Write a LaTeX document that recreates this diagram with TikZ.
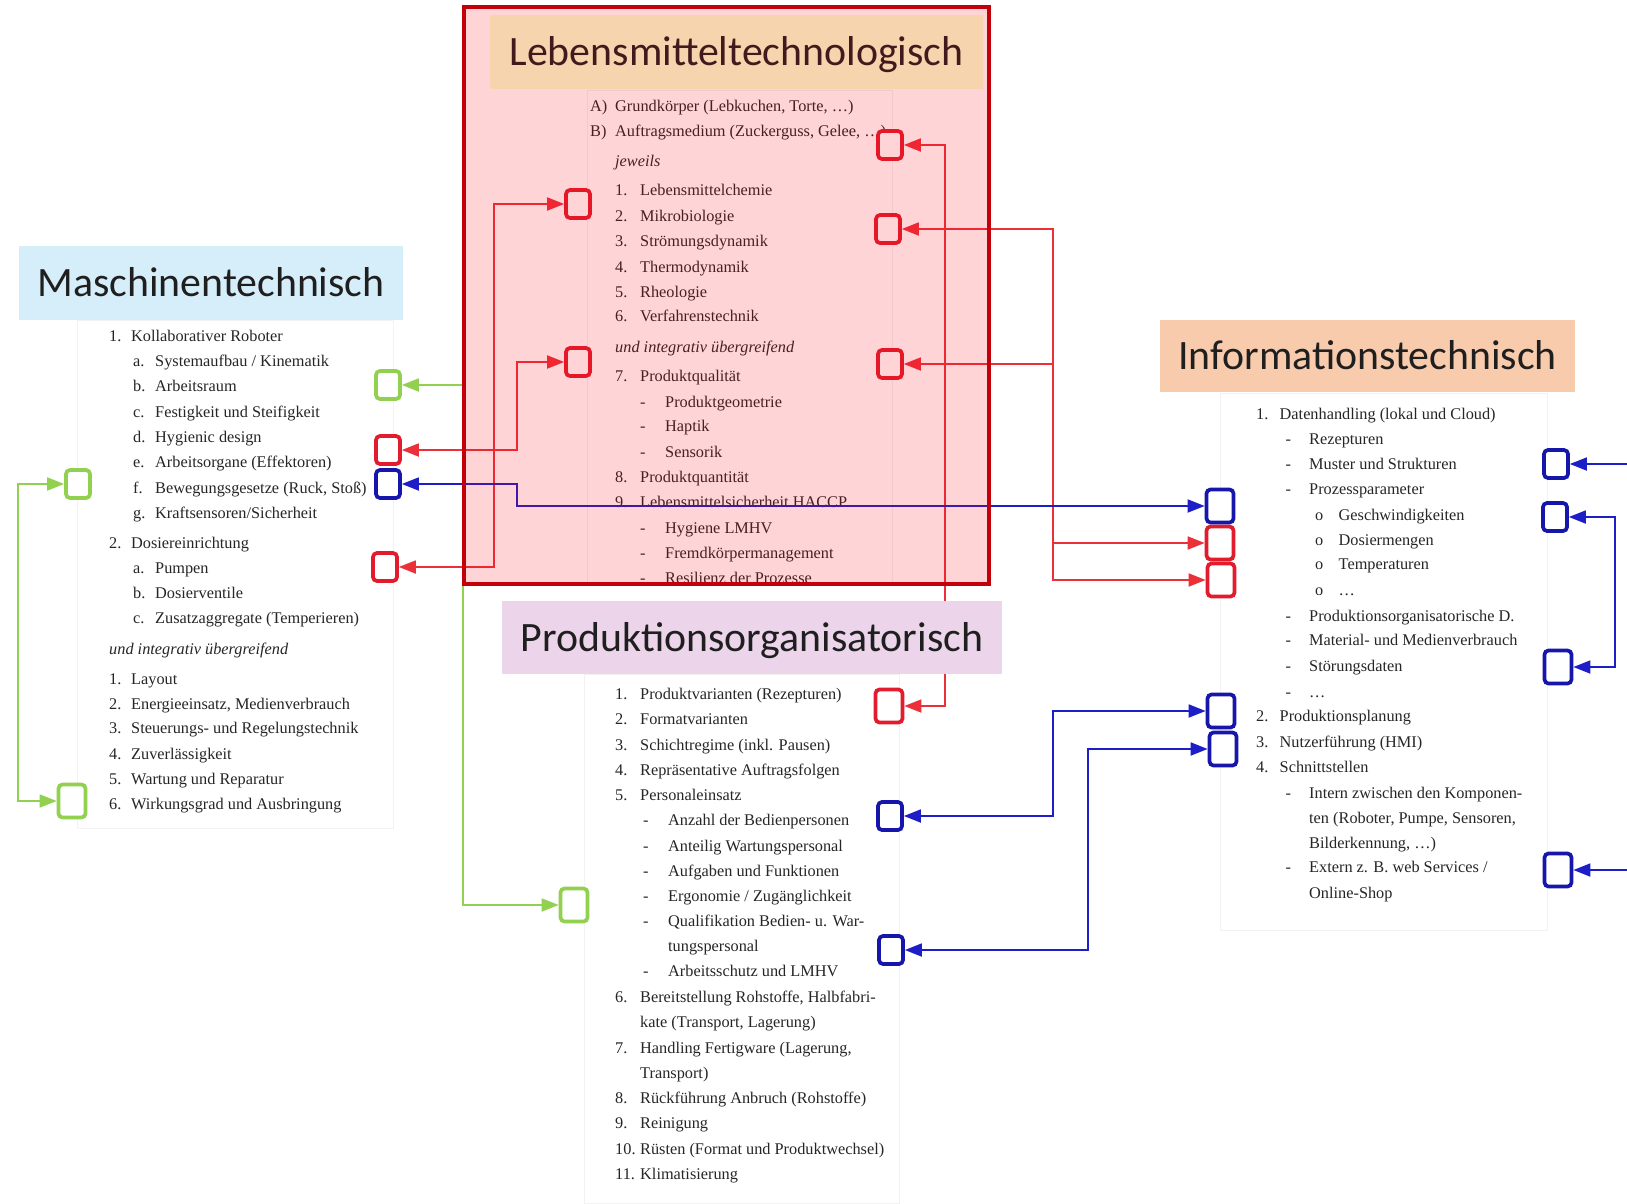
\documentclass[tikz,border=0pt]{standalone}
\usepackage{fontspec}
\setmainfont{Liberation Serif}
\newfontfamily\headfont{Carlito}
\usetikzlibrary{arrows.meta}

\definecolor{mtblue}{RGB}{214,238,249}
\definecolor{lmtan}{RGB}{245,255,205}
\definecolor{poviolet}{RGB}{236,212,234}
\definecolor{itorange}{RGB}{248,203,173}
\definecolor{sqred}{RGB}{226,28,44}
\definecolor{sqblue}{RGB}{22,22,170}
\definecolor{sqgreen}{RGB}{146,208,80}
\definecolor{lnred}{RGB}{236,48,58}
\definecolor{lnblue}{RGB}{30,30,200}
\definecolor{lmframe}{RGB}{195,0,10}
\definecolor{ovl}{RGB}{255,0,20}

\tikzset{
  head/.style={fill=#1, font=\headfont\fontsize{41.8}{44}\selectfont, text=black!88,
    inner sep=0, text height=27pt, text depth=0pt},
  lab/.style={anchor=base west, inner sep=0, font=\fontsize{16.3}{18}\selectfont, text=black!85},
  sq/.style={draw=#1, fill=white, line width=3.7, rounded corners=4,
    minimum width=24, minimum height=28, inner sep=0},
  big/.style={minimum width=27, minimum height=33},
  link/.style={draw=#1, line width=1.8},
  panel/.style={draw=black!5, line width=1}
}

% #1 x of the labels, #2 indent per level, #3 label to text, #4 y/level/label/text
\newcommand{\drawlist}[4]{%
  \foreach \yy/\lv/\lb/\tx in {#4} {
    \node[lab] (l#1-\yy) at ({#1+\lv*#2}, {\yy+5}) {\lb};
    \node[lab] (t#1-\yy) at ({#1+\lv*#2+#3}, {\yy+5}) {\tx};
  }}

\begin{document}
\begin{tikzpicture}[x=1pt, y=-1pt, >={Triangle[length=17pt,width=13pt]}]
  \useasboundingbox (0,0) rectangle (1627,1203);
  \fill[white] (0,0) rectangle (1627,1203);

  % text panels
  \draw[panel] (77,320) rectangle (393,828);
  \draw[panel] (587,90) rectangle (892,584);
  \draw[panel] (584,674) rectangle (899,1203);
  \draw[panel] (1220,393) rectangle (1547,930);

  % Maschinentechnisch
  \drawlist{109}{24}{22}{336/0/1./Kollaborativer Roboter,
    361/1/a./{Systemaufbau / Kinematik}, 386/1/b./Arbeitsraum,
    412/1/c./Festigkeit und Steifigkeit, 437/1/d./Hygienic design,
    462/1/e./Arbeitsorgane (Effektoren), 488/1/f./{Bewegungsgesetze (Ruck, Stoß)},
    513/1/g./{Kraftsensoren/Sicherheit}, 543/0/2./Dosiereinrichtung,
    568/1/a./Pumpen, 593/1/b./Dosierventile, 618/1/c./Zusatzaggregate (Temperieren),
    649/0/{\textit{und integrativ übergreifend}}/{},
    679/0/1./Layout, 704/0/2./{Energieeinsatz, Medienverbrauch},
    728/0/3./Steuerungs- und Regelungstechnik, 754/0/4./Zuverlässigkeit,
    779/0/5./Wartung und Reparatur, 804/0/6./Wirkungsgrad und Ausbringung}

  % Lebensmitteltechnologisch
  \begin{scope}
    \clip (464,90) rectangle (989,584);
    \drawlist{615}{25}{25}{106/-1/A)/{Grundkörper (Lebkuchen, Torte, …)},
      131/-1/B)/{Auftragsmedium (Zuckerguss, Gelee, …)},
      161/0/{\textit{jeweils}}/{},
      190/0/1./Lebensmittelchemie, 216/0/2./Mikrobiologie, 241/0/3./Strömungsdynamik,
      267/0/4./Thermodynamik, 292/0/5./Rheologie, 316/0/6./Verfahrenstechnik,
      347/0/{\textit{und integrativ übergreifend}}/{},
      376/0/7./Produktqualität, 402/1/-/Produktgeometrie, 426/1/-/Haptik,
      452/1/-/Sensorik, 477/0/8./Produktquantität,
      502/0/9./Lebensmittelsicherheit HACCP, 528/1/-/Hygiene LMHV,
      553/1/-/Fremdkörpermanagement, 578/1/-/Resilienz der Prozesse}
  \end{scope}

  % Produktionsorganisatorisch
  \drawlist{615}{28}{25}{694/0/1./Produktvarianten (Rezepturen),
    719/0/2./Formatvarianten, 745/0/3./Schichtregime (inkl. Pausen),
    770/0/4./Repräsentative Auftragsfolgen, 795/0/5./Personaleinsatz,
    820/1/-/Anzahl der Bedienpersonen, 846/1/-/Anteilig Wartungspersonal,
    871/1/-/Aufgaben und Funktionen, 896/1/-/{Ergonomie / Zugänglichkeit},
    921/1/-/Qualifikation Bedien- u. War-, 946/1/{}/tungspersonal,
    971/1/-/Arbeitsschutz und LMHV,
    997/0/6./{Bereitstellung Rohstoffe, Halbfabri-},
    1022/0/{}/{kate (Transport, Lagerung)},
    1048/0/7./{Handling Fertigware (Lagerung,}, 1073/0/{}/Transport),
    1098/0/8./Rückführung Anbruch (Rohstoffe), 1123/0/9./Reinigung,
    1149/0/10./Rüsten (Format und Produktwechsel), 1174/0/11./Klimatisierung}

  % Informationstechnisch
  \drawlist{1256}{29.5}{23.5}{414/0/1./Datenhandling (lokal und Cloud),
    439/1/-/Rezepturen, 464/1/-/Muster und Strukturen, 489/1/-/Prozessparameter,
    515/2/o/Geschwindigkeiten, 540/2/o/Dosiermengen, 564/2/o/Temperaturen,
    590/2/o/…, 616/1/-/Produktionsorganisatorische D.,
    640/1/-/Material- und Medienverbrauch, 666/1/-/Störungsdaten, 692/1/-/…,
    716/0/2./Produktionsplanung, 742/0/3./Nutzerführung (HMI),
    767/0/4./Schnittstellen, 793/1/-/Intern zwischen den Komponen-,
    818/1/{}/{ten (Roboter, Pumpe, Sensoren,}, 843/1/{}/{Bilderkennung, …)},
    867/1/-/{Extern z. B. web Services /}, 893/1/{}/Online-Shop}

  % free ends at the right border
  \coordinate (e3) at (1627,464);
  \coordinate (e10) at (1627,870);

  % small boxes
  \node[sq=sqgreen] (g1) at (78,484) {};
  \node[sq=sqgreen, big] (g2) at (72,801) {};
  \node[sq=sqgreen] (g3) at (388,385) {};
  \node[sq=sqgreen, big] (g4) at (574,905) {};
  \node[sq=sqred] (r1) at (890,145) {};
  \node[sq=sqred] (r2) at (578,204) {};
  \node[sq=sqred] (r3) at (888,229) {};
  \node[sq=sqred] (r4) at (578,362) {};
  \node[sq=sqred] (r5) at (890,364) {};
  \node[sq=sqred] (r6) at (388,450) {};
  \node[sq=sqred] (r7) at (385,567) {};
  \node[sq=sqred, big] (r8) at (1220,543) {};
  \node[sq=sqred, big] (r9) at (1221,580) {};
  \node[sq=sqred, big] (r10) at (889,706) {};
  \node[sq=sqblue] (b1) at (388,484) {};
  \node[sq=sqblue, big] (b2) at (1220,506) {};
  \node[sq=sqblue] (b3) at (1556,464) {};
  \node[sq=sqblue] (b4) at (1555,517) {};
  \node[sq=sqblue, big] (b5) at (1558,667) {};
  \node[sq=sqblue, big] (b6) at (1221,711) {};
  \node[sq=sqblue, big] (b7) at (1223,749) {};
  \node[sq=sqblue] (b8) at (890,816) {};
  \node[sq=sqblue] (b9) at (891,950) {};
  \node[sq=sqblue, big] (b10) at (1558,870) {};

  % connectors
  \draw[link=sqgreen,<->] (g3.east) -- ++(61,0) |- (g4.west);
  \draw[link=sqgreen,<->] (g1.west) -- ++(-46,0) |- (g2.west);
  \draw[link=lnred,<->] (r7.east) -- ++(95,0) |- (r2.west);
  \draw[link=lnred,<->] (r6.east) -- ++(115,0) |- (r4.west);
  \draw[link=lnred,<->] (r1.east) -- ++(41,0) |- (r10.east);
  \draw[link=lnred,<->] (r3.east) -- ++(151,0) |- (r8.west);
  \draw[link=lnred,<->] (r5.east) -- ++(149,0) |- (r9.west);
  \draw[link=lnblue,<->] (b1.east) -- ++(115,0) |- (b2.west);
  \draw[link=lnblue,<->] (b8.east) -- ++(149,0) |- (b6.west);
  \draw[link=lnblue,<->] (b9.east) -- ++(183,0) |- (b7.west);
  \draw[link=lnblue,<->] (b4.east) -- ++(46,0) |- (b5.east);
  \draw[link=lnblue,->] (e3) -- (b3.east);
  \draw[link=lnblue,->] (e10) -- (b10.east);

  % headings
  \node[head=mtblue, minimum width=384, minimum height=74] (mt) at (211,283) {Maschinentechnisch};
  \node[head=lmtan, minimum width=493, minimum height=74] (lm) at (736.5,52) {Lebensmitteltechnologisch};
  \node[head=poviolet, minimum width=500, minimum height=73] (po) at (752,637.5) {Produktionsorganisatorisch};
  \node[head=itorange, minimum width=415, minimum height=72] (it) at (1367.5,356) {Informationstechnisch};

  % red frame over the food technology part
  \draw[draw=lmframe, line width=3.5, fill=ovl, fill opacity=0.17] (464,7) rectangle (989,584);
\end{tikzpicture}
\end{document}
